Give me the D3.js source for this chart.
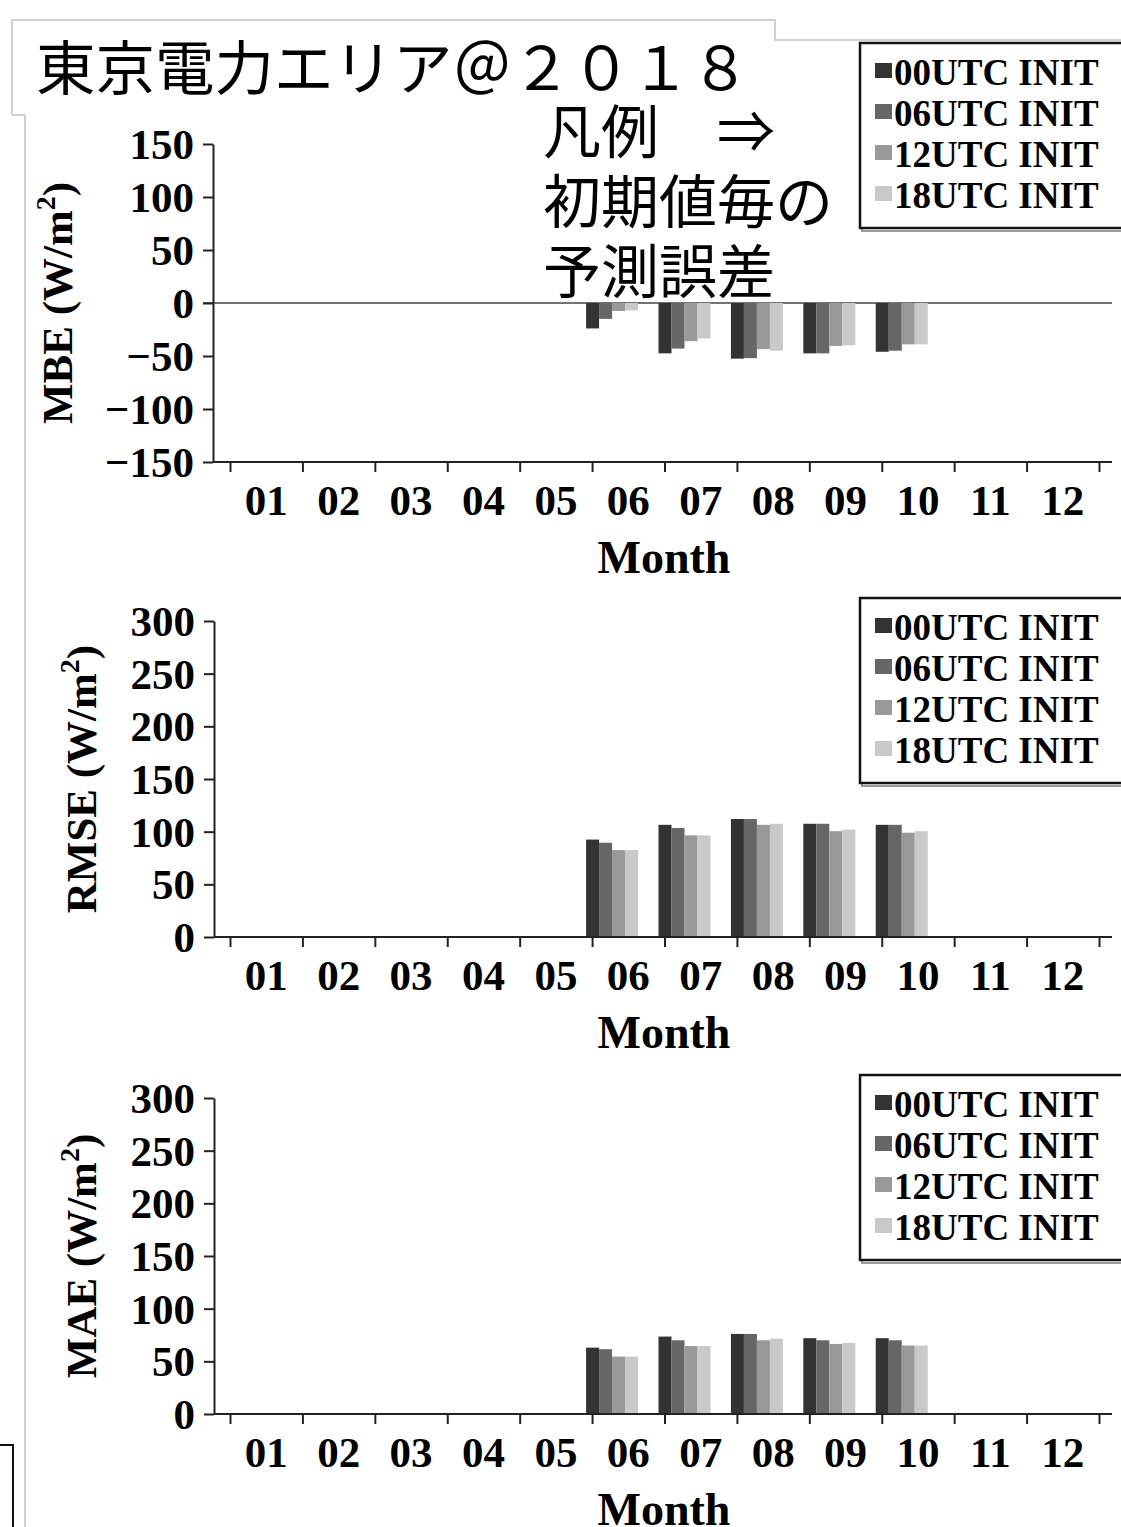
<!DOCTYPE html>
<html>
<head>
<meta charset="utf-8">
<script src="https://cdn.jsdelivr.net/npm/d3@7/dist/d3.min.js"></script>
<style>
  html, body { margin: 0; padding: 0; background: #fff; }
  svg { display: block; }
</style>
</head>
<body>
<svg id="chart" width="1121" height="1527"></svg>
<script>
// Months and initialisation times
const months = ["01","02","03","04","05","06","07","08","09","10","11","12"];
const series = ["00UTC INIT","06UTC INIT","12UTC INIT","18UTC INIT"];
const seriesColors = ["#333333","#666666","#999999","#c9c9c9"];

// Mean bias error (W/m2), null where no data
const mbe00 = [null,null,null,null,null,-24,-47.5,-52.5,-47.5,-46,null,null];
const mbe06 = [null,null,null,null,null,-15,-43,-52,-47.5,-45,null,null];
const mbe12 = [null,null,null,null,null,-7.5,-36,-43.5,-40.5,-39,null,null];
const mbe18 = [null,null,null,null,null,-7,-33.5,-45,-40,-39,null,null];

// Root mean square error (W/m2)
const rmse00 = [null,null,null,null,null,92.5,106.5,112,107.5,106.5,null,null];
const rmse06 = [null,null,null,null,null,89.5,103.5,112,107.5,106.5,null,null];
const rmse12 = [null,null,null,null,null,82.5,96.5,106.5,100.5,99,null,null];
const rmse18 = [null,null,null,null,null,82.5,96.5,107.5,102,100.5,null,null];

// Mean absolute error (W/m2)
const mae00 = [null,null,null,null,null,63,73.5,76,72,72,null,null];
const mae06 = [null,null,null,null,null,61.5,70,76,70,70,null,null];
const mae12 = [null,null,null,null,null,54.5,64.5,70,66.5,65,null,null];
const mae18 = [null,null,null,null,null,54.5,64.5,71.5,67.5,65,null,null];

// Tick labels
const mbeTicks = [-150,-100,-50,0,50,100,150];
const errTicks = [0,50,100,150,200,250,300];

const titleText = "東京電力エリア＠２０１８";
const noteLines = ["凡例　⇒","初期値毎の","予測誤差"];

const SERIF = "'Liberation Serif','Times New Roman',serif";
const CJK = "'Noto Sans CJK JP','Noto Sans CJK SC',sans-serif";

const svg = d3.select("#chart");

// Frame lines around the title block
const frame = svg.append("g").attr("fill", "none");
frame.append("path")
  .attr("d", "M12,115 L12,20 L775,20 L775,40 L1121,40")
  .attr("stroke", "#d0d0d0").attr("stroke-width", 2);
frame.append("path")
  .attr("d", "M12,115 L25,115 L25,1527")
  .attr("stroke", "#d0d0d0").attr("stroke-width", 2);
frame.append("path")
  .attr("d", "M0,1445 L13,1445 L13,1527")
  .attr("stroke", "#111").attr("stroke-width", 2);

// Three stacked panels
const panels = [
  { label: "MBE", data: [mbe00, mbe06, mbe12, mbe18], domain: [-150, 150], ticks: mbeTicks,
    top: 144, bottom: 462, axisX: 213, labelX: 72, legendTop: 43, zeroLine: true },
  { label: "RMSE", data: [rmse00, rmse06, rmse12, rmse18], domain: [0, 300], ticks: errTicks,
    top: 621, bottom: 937, axisX: 214, labelX: 96, legendTop: 598, zeroLine: false },
  { label: "MAE", data: [mae00, mae06, mae12, mae18], domain: [0, 300], ticks: errTicks,
    top: 1098, bottom: 1414, axisX: 214, labelX: 96, legendTop: 1075, zeroLine: false }
];

const plotRight = 1112;
const x = d3.scaleBand().domain(months).range([230, 1099]).padding(0);
const xEdge = d3.scaleLinear().domain([0, months.length]).range([230, 1099]);
const xInner = d3.scaleBand().domain(series).range([0, 52]).padding(0);
const barShift = -6;

panels.forEach(p => {
  const g = svg.append("g");
  const y = d3.scaleLinear().domain(p.domain).range([p.bottom, p.top]);

  // zero reference line
  if (p.zeroLine) {
    g.append("line")
      .attr("x1", p.axisX - 10).attr("x2", plotRight)
      .attr("y1", y(0)).attr("y2", y(0))
      .attr("stroke", "#444").attr("stroke-width", 1.5);
  }

  // bars
  months.forEach((m, i) => {
    series.forEach((s, k) => {
      const v = p.data[k][i];
      if (v === null) return;
      g.append("rect")
        .attr("x", x(m) + barShift + xInner(s))
        .attr("width", xInner.bandwidth())
        .attr("y", Math.min(y(v), y(0)))
        .attr("height", Math.abs(y(v) - y(0)))
        .attr("fill", seriesColors[k]);
    });
  });

  // y axis
  const ya = g.append("g")
    .attr("transform", `translate(${p.axisX},0)`)
    .call(d3.axisLeft(y).tickValues(p.ticks).tickSize(10).tickSizeOuter(0).tickPadding(9));
  ya.selectAll("path,line").attr("stroke", "#222").attr("stroke-width", 2);
  ya.selectAll("text")
    .attr("font-family", SERIF).attr("font-weight", "bold")
    .attr("font-size", 43).attr("fill", "#000").attr("dy", "0.34em");

  // x axis line
  g.append("line")
    .attr("x1", p.axisX).attr("x2", plotRight)
    .attr("y1", p.bottom).attr("y2", p.bottom)
    .attr("stroke", "#222").attr("stroke-width", 2);

  // category boundary ticks
  const xt = g.append("g")
    .attr("transform", `translate(0,${p.bottom})`)
    .call(d3.axisBottom(xEdge).tickValues(d3.range(months.length + 1)).tickFormat("").tickSize(10));
  xt.select(".domain").remove();
  xt.selectAll("line").attr("stroke", "#222").attr("stroke-width", 2);

  // month labels
  const xl = g.append("g")
    .attr("transform", `translate(0,${p.bottom})`)
    .call(d3.axisBottom(x).tickSize(0).tickPadding(0));
  xl.select(".domain").remove();
  xl.selectAll("text")
    .attr("font-family", SERIF).attr("font-weight", "bold")
    .attr("font-size", 43).attr("fill", "#000")
    .attr("dy", null).attr("y", 53);

  // x title
  g.append("text")
    .attr("x", 664).attr("y", p.bottom + 111)
    .attr("text-anchor", "middle")
    .attr("font-family", SERIF).attr("font-weight", "bold").attr("font-size", 46)
    .text("Month");

  // y title
  const yt = g.append("text")
    .attr("transform", `translate(${p.labelX},${(p.top + p.bottom) / 2}) rotate(-90)`)
    .attr("text-anchor", "middle")
    .attr("font-family", SERIF).attr("font-weight", "bold").attr("font-size", 43);
  yt.append("tspan").text(p.label + " (W/m");
  yt.append("tspan").attr("font-size", 28).attr("dy", -17).text("2");
  yt.append("tspan").attr("dy", 17).text(")");

  // legend
  const lg = g.append("g").attr("transform", `translate(860,${p.legendTop})`);
  lg.append("rect").attr("x", 2).attr("y", 2).attr("width", 300).attr("height", 186)
    .attr("fill", "none").attr("stroke", "#9a9a9a").attr("stroke-width", 2);
  lg.append("rect").attr("x", 0).attr("y", 0).attr("width", 300).attr("height", 185)
    .attr("fill", "#fff").attr("stroke", "#111").attr("stroke-width", 2.5);
  series.forEach((s, k) => {
    const row = lg.append("g").attr("transform", `translate(0,${29 + k * 41})`);
    row.append("rect").attr("x", 15).attr("y", -9).attr("width", 17).attr("height", 15)
      .attr("fill", seriesColors[k]);
    row.append("text").attr("x", 34).attr("y", 13)
      .attr("font-family", SERIF).attr("font-weight", "bold").attr("font-size", 37)
      .text(s);
  });
});

// heading
svg.append("text")
  .attr("x", 36).attr("y", 90)
  .attr("font-family", CJK).attr("font-weight", 400).attr("font-size", 59.5)
  .text(titleText);

// note pointing at the legend
const note = svg.append("g").attr("font-family", CJK).attr("font-weight", 400).attr("font-size", 58);
noteLines.forEach((t, i) => {
  note.append("text").attr("x", 543).attr("y", 153 + i * 70).text(t);
});
</script>
</body>
</html>
